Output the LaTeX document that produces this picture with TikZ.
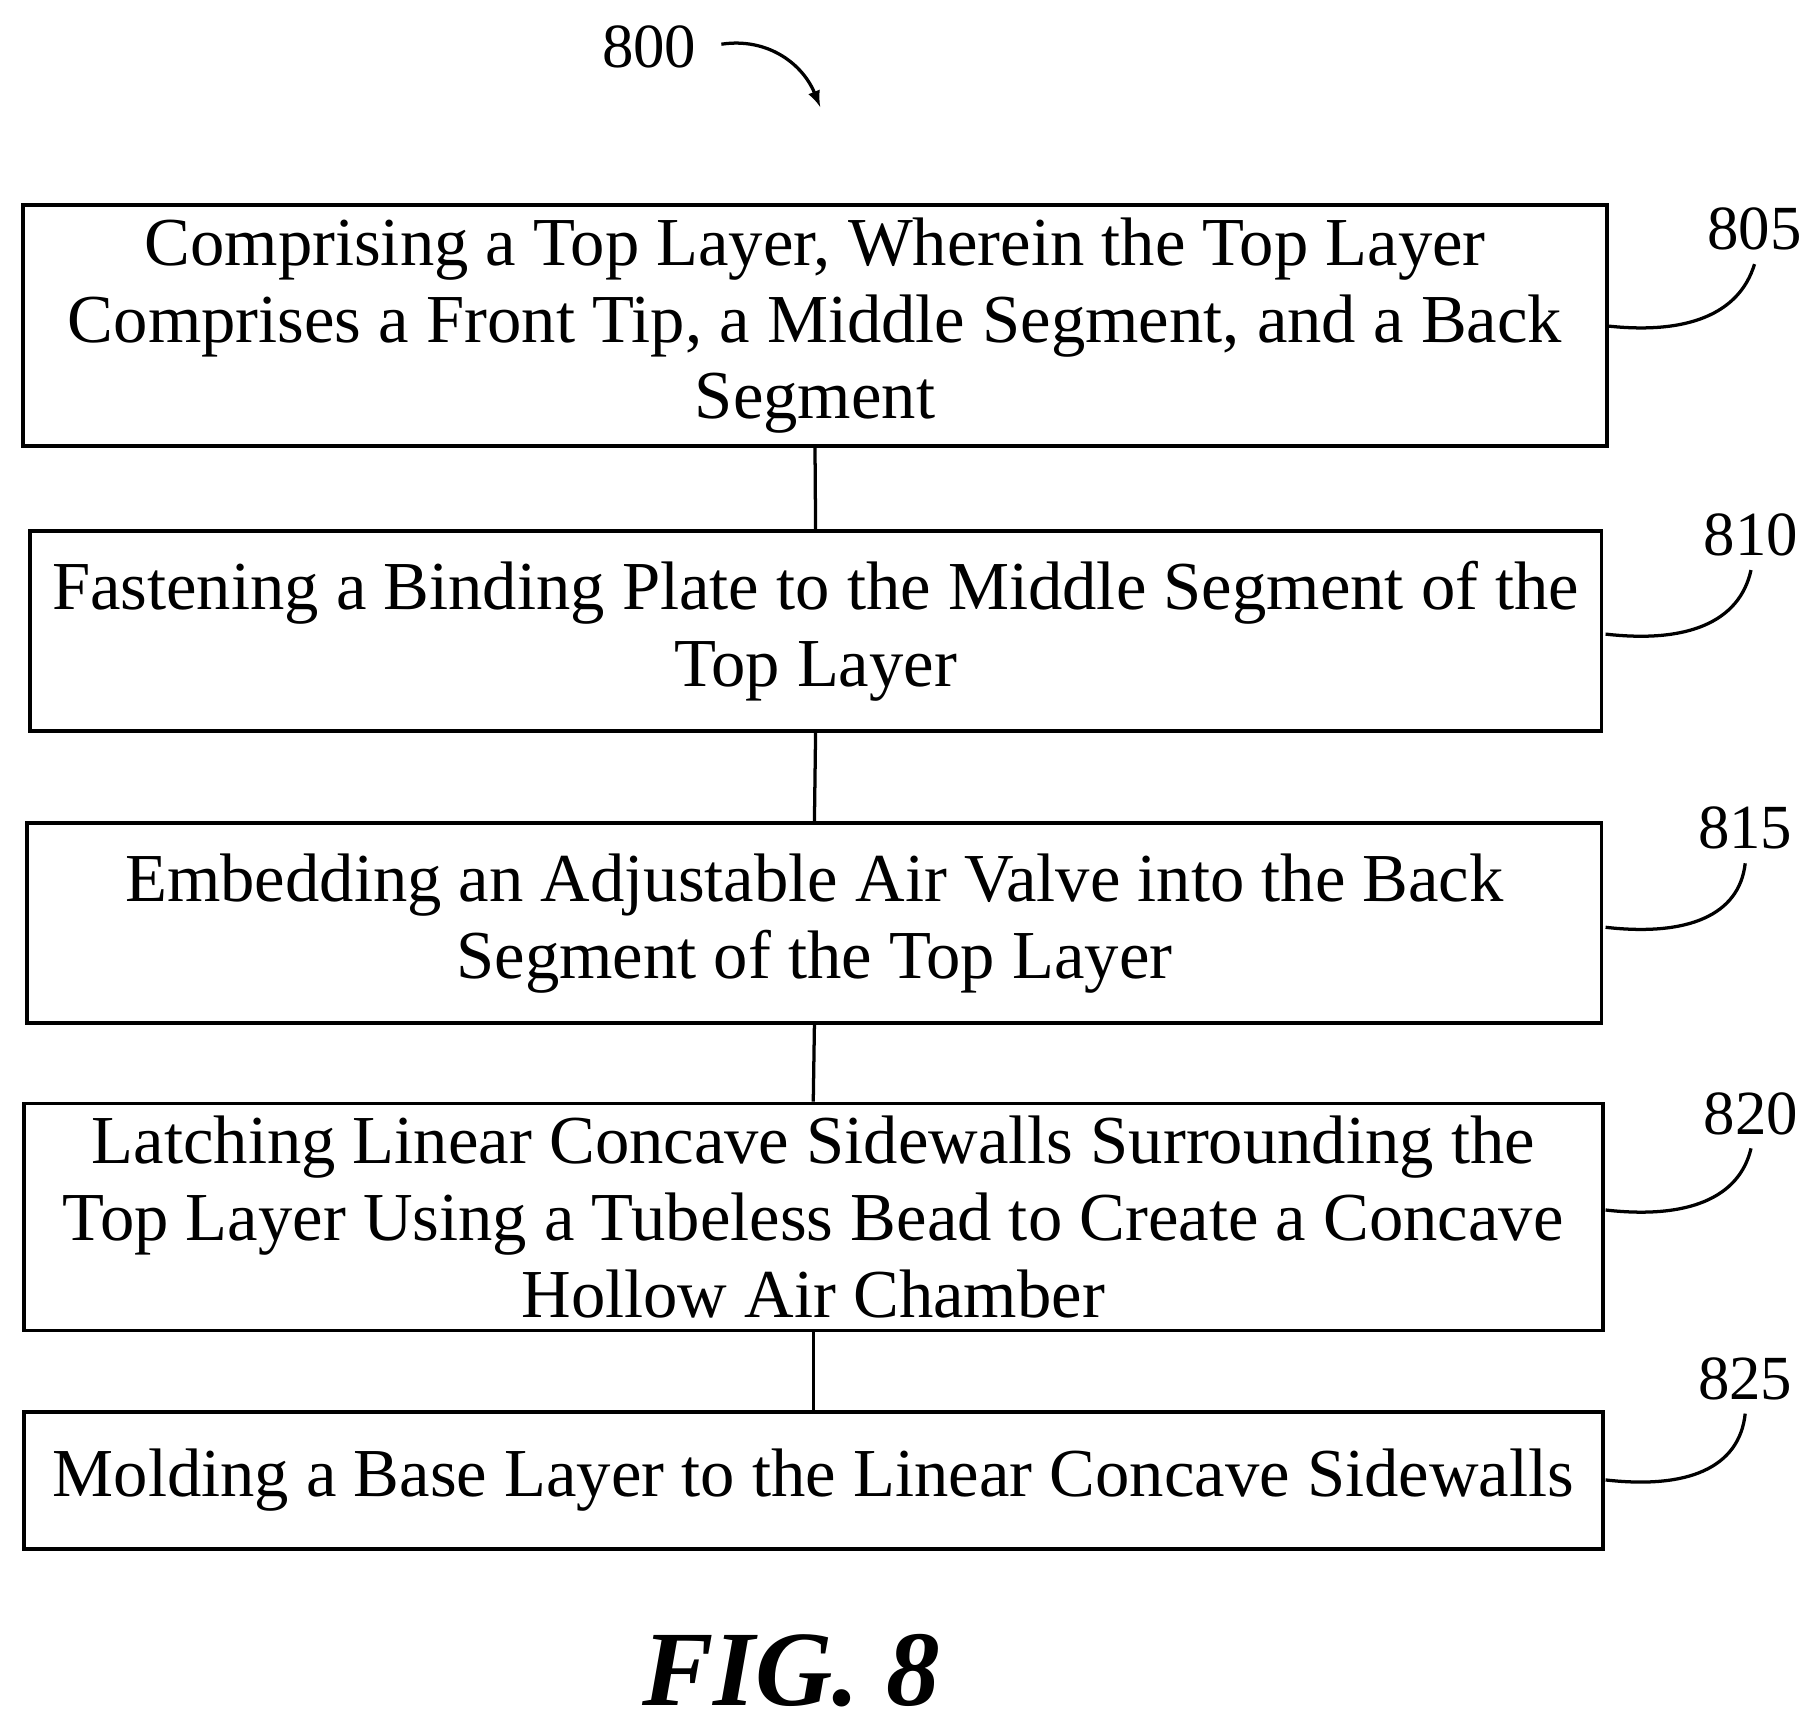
\documentclass[tikz,border=0pt]{standalone}
\usepackage{fontspec}
\setmainfont{Liberation Serif}
\begin{document}
\begin{tikzpicture}[x=0.5pt,y=-0.5pt,
  box/.style={draw,line width=1.6pt,rectangle,inner sep=0pt,align=center,font=\fontsize{29.5}{33}\selectfont},
  lbl/.style={font=\fontsize{27}{30}\selectfont,inner sep=0pt},
  lead/.style={line width=1.4pt}]
\useasboundingbox (0,0) rectangle (1560,1489);
\node[box,minimum width=681pt,minimum height=103.5pt] (b805) at (700.5,280) {Comprising a Top Layer, Wherein the Top Layer\\Comprises a Front Tip, a Middle Segment, and a Back\\Segment};
\node[box,minimum width=675.5pt,minimum height=86pt] (b810) at (701,542.5) {Fastening a Binding Plate to the Middle Segment of the\\Top Layer};
\node[box,minimum width=676.5pt,minimum height=86pt] (b815) at (700,793.5) {Embedding an Adjustable Air Valve into the Back\\Segment of the Top Layer};
\node[box,minimum width=678.5pt,minimum height=97.5pt] (b820) at (699,1046) {Latching Linear Concave Sidewalls Surrounding the\\Top Layer Using a Tubeless Bead to Create a Concave\\Hollow Air Chamber};
\node[box,minimum width=678.5pt,minimum height=59pt] (b825) at (699,1272.5) {Molding a Base Layer to the Linear Concave Sidewalls};
\draw[lead] (b805.south) -- (b810.north);
\draw[lead] (b810.south) -- (b815.north);
\draw[lead] (b815.south) -- (b820.north);
\draw[lead] (b820.south) -- (b825.north);
\foreach \n/\y/\ly/\lx in {805/280/197/1508,810/545/460/1505,815/797/712/1500,820/1040/957/1505,825/1272/1185/1500}{
  \node[lbl] (l\n) at (\lx,\ly) {\n};
  \coordinate (s\n) at (1380,\y);
  \draw[lead] (s\n) .. controls (1450,\y+8) and (1495,\y-10) .. (\lx,\ly+30);
}
\node[lbl] (l800) at (558,40) {800};
\coordinate (e800) at (705,92);
\draw[lead,-latex] (620,38) .. controls (660,32) and (690,55) .. (e800);
\node[inner sep=0pt,font=\fontsize{46}{48}\selectfont\bfseries\itshape] (fig) at (680,1436) {FIG. 8};
\end{tikzpicture}
\end{document}
